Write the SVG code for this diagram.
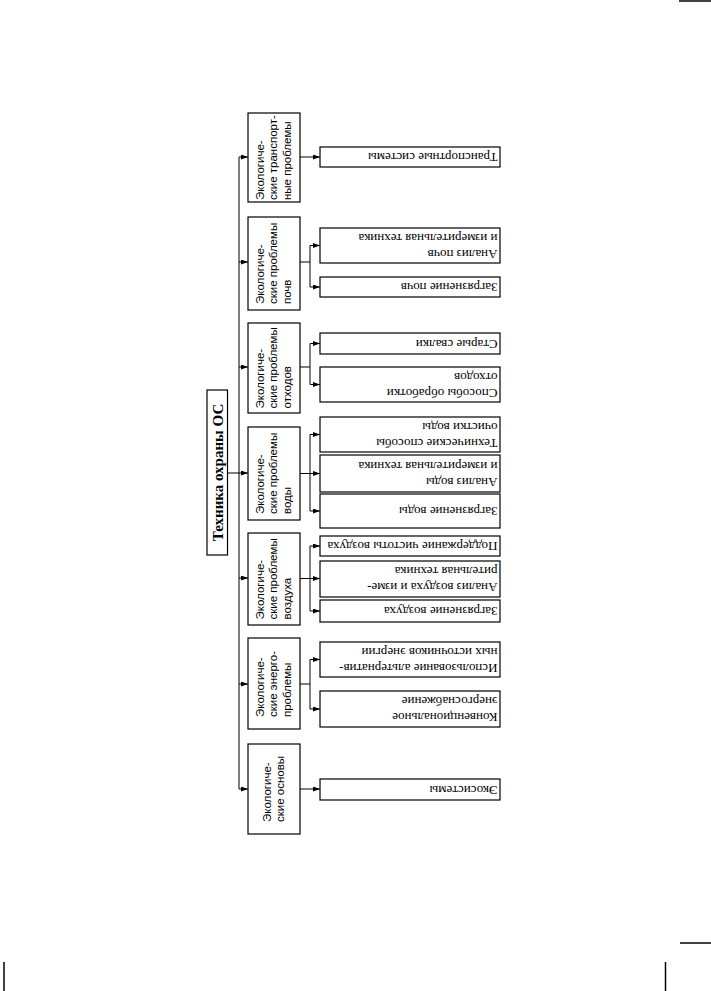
<svg xmlns="http://www.w3.org/2000/svg" width="711" height="991" viewBox="0 0 711 991">
<style>
.bg{fill:#fff}
.box{fill:#fff;stroke:#000;stroke-width:1.2}
.ln{fill:none;stroke:#000;stroke-width:1}
.arr{fill:none;stroke:#000;stroke-width:1;marker-end:url(#ah)}
.root{font-family:"Liberation Serif","Times New Roman",serif;font-weight:bold;font-size:15px;fill:#000}
.cat{font-family:"Liberation Sans",Arial,sans-serif;font-size:11.5px;fill:#000}
.leaf{font-family:"Liberation Serif","Times New Roman",serif;font-size:13px;fill:#000}
.mark{stroke:#000;stroke-width:1.5}
</style>
<defs>
<marker id="ah" markerUnits="userSpaceOnUse" markerWidth="7" markerHeight="5" refX="7" refY="2.5" orient="auto">
<path d="M0,0 L7,2.5 L0,5 z" fill="#000"/>
</marker>
</defs>
<rect class="bg" x="0" y="0" width="711" height="991"/>
<g id="page-marks">
<line class="mark" x1="679" y1="1" x2="711" y2="1"/>
<line class="mark" x1="680" y1="943" x2="711" y2="943"/>
<line class="mark" x1="4" y1="962" x2="4" y2="991"/>
<line class="mark" x1="665.5" y1="962" x2="665.5" y2="991"/>
</g>
<g id="connectors">
<path class="ln" d="M239,157 V789"/>
<path class="ln" d="M227.5,473 H239"/>
<path class="arr" d="M239,157 H248"/>
<path class="arr" d="M239,262 H248"/>
<path class="arr" d="M239,367 H248"/>
<path class="arr" d="M239,473 H248"/>
<path class="arr" d="M239,578 H248"/>
<path class="arr" d="M239,684 H248"/>
<path class="arr" d="M239,789 H248"/>
<path class="arr" d="M300,157 H320"/>
<path class="ln" d="M300,262 H310 M310,245.5 V287"/>
<path class="arr" d="M310,245.5 H320"/>
<path class="arr" d="M310,287 H320"/>
<path class="ln" d="M300,367 H310 M310,343.5 V384.5"/>
<path class="arr" d="M310,343.5 H320"/>
<path class="arr" d="M310,384.5 H320"/>
<path class="ln" d="M310,434.5 V511"/>
<path class="arr" d="M300,473.5 H320"/>
<path class="arr" d="M310,434.5 H320"/>
<path class="arr" d="M310,511 H320"/>
<path class="ln" d="M310,546 V611"/>
<path class="arr" d="M300,578.5 H320"/>
<path class="arr" d="M310,546 H320"/>
<path class="arr" d="M310,611 H320"/>
<path class="ln" d="M300,684 H310 M310,659.5 V709"/>
<path class="arr" d="M310,659.5 H320"/>
<path class="arr" d="M310,709 H320"/>
<path class="arr" d="M300,789 H320"/>
</g>
<g id="root">
<rect class="box" x="207" y="390" width="20.5" height="165"/>
<text class="root" text-anchor="middle" transform="translate(222.5,472.5) rotate(-90)">Техника охраны ОС</text>
</g>
<g id="cat-transport">
<rect class="box" x="248" y="113" width="52" height="89"/>
<text class="cat" transform="translate(263.5,200) rotate(-90)"><tspan x="0" y="0">Экологиче-</tspan><tspan x="0" dy="13.5">ские транспорт-</tspan><tspan x="0" dy="13.5">ные проблемы</tspan></text>
</g>
<g id="cat-soil">
<rect class="box" x="248" y="217" width="52" height="93"/>
<text class="cat" transform="translate(263.5,304) rotate(-90)"><tspan x="0" y="0">Экологиче-</tspan><tspan x="0" dy="13.5">ские проблемы</tspan><tspan x="0" dy="13.5">почв</tspan></text>
</g>
<g id="cat-waste">
<rect class="box" x="248" y="323" width="52" height="90"/>
<text class="cat" transform="translate(263.5,408.5) rotate(-90)"><tspan x="0" y="0">Экологиче-</tspan><tspan x="0" dy="13.5">ские проблемы</tspan><tspan x="0" dy="13.5">отходов</tspan></text>
</g>
<g id="cat-water">
<rect class="box" x="248" y="427" width="52" height="93"/>
<text class="cat" transform="translate(263.5,514) rotate(-90)"><tspan x="0" y="0">Экологиче-</tspan><tspan x="0" dy="13.5">ские проблемы</tspan><tspan x="0" dy="13.5">воды</tspan></text>
</g>
<g id="cat-air">
<rect class="box" x="248" y="533" width="52" height="92"/>
<text class="cat" transform="translate(263.5,619.5) rotate(-90)"><tspan x="0" y="0">Экологиче-</tspan><tspan x="0" dy="13.5">ские проблемы</tspan><tspan x="0" dy="13.5">воздуха</tspan></text>
</g>
<g id="cat-energy">
<rect class="box" x="248" y="638" width="52" height="91"/>
<text class="cat" transform="translate(263.5,717) rotate(-90)"><tspan x="0" y="0">Экологиче-</tspan><tspan x="0" dy="13.5">ские энерго-</tspan><tspan x="0" dy="13.5">проблемы</tspan></text>
</g>
<g id="cat-basics">
<rect class="box" x="248" y="744" width="52" height="90"/>
<text class="cat" transform="translate(270.5,822) rotate(-90)"><tspan x="0" y="0">Экологиче-</tspan><tspan x="0" dy="13.5">ские основы</tspan></text>
</g>
<g id="leaf-transport-systems">
<rect class="box" x="320" y="147" width="180" height="20"/>
<text class="leaf" transform="rotate(180 410 157)" x="322.5" y="161">Транспортные системы</text>
</g>
<g id="leaf-soil-analysis">
<rect class="box" x="320" y="228" width="180" height="35"/>
<text class="leaf" transform="rotate(180 410 245.5)"><tspan x="322.5" y="241.5">Анализ почв</tspan><tspan x="322.5" y="257.5">и измерительная техника</tspan></text>
</g>
<g id="leaf-soil-pollution">
<rect class="box" x="320" y="277" width="180" height="20"/>
<text class="leaf" transform="rotate(180 410 287)" x="322.5" y="291">Загрязнение почв</text>
</g>
<g id="leaf-old-dumps">
<rect class="box" x="320" y="333" width="180" height="21"/>
<text class="leaf" transform="rotate(180 410 343.5)" x="322.5" y="347.5">Старые свалки</text>
</g>
<g id="leaf-waste-processing">
<rect class="box" x="320" y="367" width="180" height="35"/>
<text class="leaf" transform="rotate(180 410 384.5)"><tspan x="322.5" y="380.5">Способы обработки</tspan><tspan x="322.5" y="396.5">отходов</tspan></text>
</g>
<g id="leaf-water-treatment">
<rect class="box" x="320" y="417" width="180" height="35"/>
<text class="leaf" transform="rotate(180 410 434.5)"><tspan x="322.5" y="430.5">Технические способы</tspan><tspan x="322.5" y="446.5">очистки воды</tspan></text>
</g>
<g id="leaf-water-analysis">
<rect class="box" x="320" y="455" width="180" height="37"/>
<text class="leaf" transform="rotate(180 410 473.5)"><tspan x="322.5" y="469.5">Анализ воды</tspan><tspan x="322.5" y="485.5">и измерительная техника</tspan></text>
</g>
<g id="leaf-water-pollution">
<rect class="box" x="320" y="494" width="180" height="34"/>
<text class="leaf" transform="rotate(180 410 511)" x="322.5" y="515">Загрязнение воды</text>
</g>
<g id="leaf-air-cleanliness">
<rect class="box" x="320" y="536" width="180" height="20"/>
<text class="leaf" transform="rotate(180 410 546)" x="322.5" y="550">Поддержание чистоты воздуха</text>
</g>
<g id="leaf-air-analysis">
<rect class="box" x="320" y="561" width="180" height="36"/>
<text class="leaf" transform="rotate(180 410 579)"><tspan x="322.5" y="575">Анализ воздуха и изме-</tspan><tspan x="322.5" y="591">рительная техника</tspan></text>
</g>
<g id="leaf-air-pollution">
<rect class="box" x="320" y="600" width="180" height="22"/>
<text class="leaf" transform="rotate(180 410 611)" x="322.5" y="615">Загрязнение воздуха</text>
</g>
<g id="leaf-alt-energy">
<rect class="box" x="320" y="642" width="180" height="35"/>
<text class="leaf" transform="rotate(180 410 659.5)"><tspan x="322.5" y="655.5">Использование альтернатив-</tspan><tspan x="322.5" y="671.5">ных источников энергии</tspan></text>
</g>
<g id="leaf-conv-energy">
<rect class="box" x="320" y="691" width="180" height="36"/>
<text class="leaf" transform="rotate(180 410 709)"><tspan x="322.5" y="705">Конвенциональное</tspan><tspan x="322.5" y="721">энергоснабжение</tspan></text>
</g>
<g id="leaf-ecosystems">
<rect class="box" x="320" y="779" width="180" height="21"/>
<text class="leaf" transform="rotate(180 410 789.5)" x="322.5" y="793.5">Экосистемы</text>
</g>
</svg>
